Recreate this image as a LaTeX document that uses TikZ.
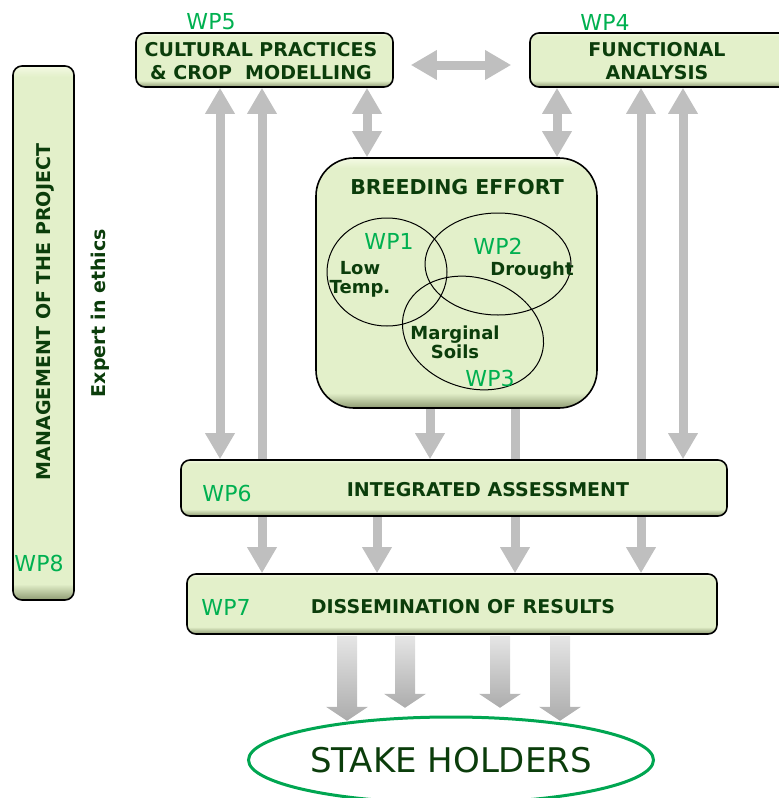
\documentclass[tikz,border=0pt]{standalone}
\usepackage{fontspec}
\setmainfont{DejaVu Sans}
\usetikzlibrary{arrows.meta,shapes.geometric}

\definecolor{boxfill}{HTML}{E3F0CA}
\definecolor{boxhi}{HTML}{F4FAE4}
\definecolor{boxdark}{HTML}{8E9B72}
\definecolor{darkgrn}{HTML}{0B3D0B}
\definecolor{wpgrn}{HTML}{00B050}
\definecolor{stakegrn}{HTML}{00A651}
\definecolor{arrgray}{HTML}{BFBFBF}

\pgfdeclareverticalshading{bevel}{100bp}{color(0bp)=(boxdark); color(25bp)=(boxdark); color(31bp)=(boxfill); color(72bp)=(boxfill); color(75bp)=(boxhi); color(100bp)=(boxhi)}
\pgfdeclareverticalshading{bevelbig}{100bp}{color(0bp)=(boxdark); color(25bp)=(boxdark); color(28bp)=(boxfill); color(73bp)=(boxfill); color(75bp)=(boxhi); color(100bp)=(boxhi)}
\pgfdeclareverticalshading{beveltall}{100bp}{color(0bp)=(boxdark); color(25bp)=(boxdark); color(26.5bp)=(boxfill); color(74bp)=(boxfill); color(75bp)=(boxhi); color(100bp)=(boxhi)}

\tikzset{
  wpbox/.style={draw=black, line width=1.6pt, rounded corners=9pt, shading=bevel, inner sep=0pt},
  boxtext/.style={text=darkgrn, font=\bfseries\fontsize{19}{23}\selectfont, align=center, inner sep=0pt},
  wplabel/.style={text=wpgrn, font=\fontsize{22}{22}\selectfont, inner sep=0pt},
  venntext/.style={text=darkgrn, font=\bfseries\fontsize{18}{19}\selectfont, align=center, inner sep=0pt},
  grayarrow/.style={draw=arrgray, line width=9pt},
  >={Triangle[width=28pt,length=26pt]}
}

\begin{document}
\begin{tikzpicture}[x=1pt,y=-1pt]
    \useasboundingbox (0,0) rectangle (779,798);
    % work package boxes
    \node[wpbox, minimum width=257pt, minimum height=54pt] (wp5) at (264.5,60) {};
    \node[boxtext] (wp5ttl) at (261,61) {CULTURAL PRACTICES\\\&~CROP~~MODELLING};
    \node[wplabel] (wp5lbl) at (211,22) {WP5};
    \node[wpbox, minimum width=260pt, minimum height=54pt] (wp4) at (660,60) {};
    \node[boxtext] (wp4ttl) at (657,61) {FUNCTIONAL\\ANALYSIS};
    \node[wplabel] (wp4lbl) at (605,22) {WP4};
    \node[wpbox, shading=beveltall, minimum width=61pt, minimum height=534pt] (wp8) at (43.5,333) {};
    \node[boxtext, rotate=90] (wp8ttl) at (45,312) {MANAGEMENT OF THE PROJECT};
    \node[wplabel] (wp8lbl) at (39,563) {WP8};
    \node[boxtext, rotate=90] (ethics) at (100,313) {Expert in ethics};
    % breeding effort
    \node[wpbox, shading=bevelbig, rounded corners=38pt, minimum width=281pt, minimum height=250pt] (breed) at (456.5,283) {};
    \node[boxtext, font=\bfseries\fontsize{20.5}{21}\selectfont] (breedttl) at (457,187) {BREEDING EFFORT};
    \draw[line width=1pt] (387,272) ellipse [x radius=60, y radius=54];
    \draw[line width=1pt] (498,264) ellipse [x radius=73, y radius=51];
    \draw[line width=1pt, rotate around={-18:(473,333)}] (473,333) ellipse [x radius=72, y radius=55];
    \node[wplabel] (wp1lbl) at (389,241) {WP1};
    \node[venntext] (lowtemp) at (360,279) {Low\\Temp.};
    \node[wplabel] (wp2lbl) at (498,246) {WP2};
    \node[venntext] (drought) at (532,271) {Drought};
    \node[venntext] (marginal) at (455,342) {Marginal\\Soils};
    \node[wplabel] (wp3lbl) at (490,378) {WP3};
    % assessment and dissemination
    \node[wpbox, minimum width=546pt, minimum height=56pt] (wp6) at (454,488) {};
    \node[boxtext] (wp6ttl) at (488,490) {INTEGRATED ASSESSMENT};
    \node[wplabel] (wp6lbl) at (227,493) {WP6};
    \node[wpbox, minimum width=530pt, minimum height=60pt] (wp7) at (452,604) {};
    \node[boxtext] (wp7ttl) at (463,607) {DISSEMINATION OF RESULTS};
    \node[wplabel] (wp7lbl) at (226,607) {WP7};
    \node[ellipse, draw=stakegrn, line width=3pt, minimum width=405pt, minimum height=86pt, inner sep=0pt, text=darkgrn, font=\fontsize{34}{34}\selectfont] (stake) at (451,760) {STAKE HOLDERS};
    % links
    \draw[grayarrow,<->] ([shift={(17pt,-5pt)}]wp5.east) -- ([shift={(-18pt,-5pt)}]wp4.west);
    \draw[grayarrow,<->] (220,0 |- wp5.south) -- (220,0 |- wp6.north);
    \draw[grayarrow,->] (262,0 |- wp6.north) -- (262,0 |- wp5.south);
    \draw[grayarrow,<->] (367,0 |- wp5.south) -- (367,0 |- breed.north);
    \draw[grayarrow,<->] (557,0 |- wp4.south) -- (557,0 |- breed.north);
    \draw[grayarrow,->] (430,0 |- breed.south) -- (430,0 |- wp6.north);
    \draw[grayarrow] (515,0 |- breed.south) -- (515,0 |- wp6.north);
    \draw[grayarrow,->] (641,0 |- wp6.north) -- (641,0 |- wp4.south);
    \draw[grayarrow,<->] (683,0 |- wp4.south) -- (683,0 |- wp6.north);
    \foreach \x in {262,377,515,641}
        \draw[grayarrow,->] (\x,0 |- wp6.south) -- (\x,0 |- wp7.north);
    \foreach \x/\l in {347/86,405/73,500/73,560/86}
        \shade[top color=gray!20, bottom color=gray!65, shift={(\x,0 |- wp7.south)}]
            (-10,1) -- (10,1) -- (10,\l-14) -- (21,\l-14) -- (0,\l) -- (-21,\l-14) -- (-10,\l-14) -- cycle;
\end{tikzpicture}
\end{document}
